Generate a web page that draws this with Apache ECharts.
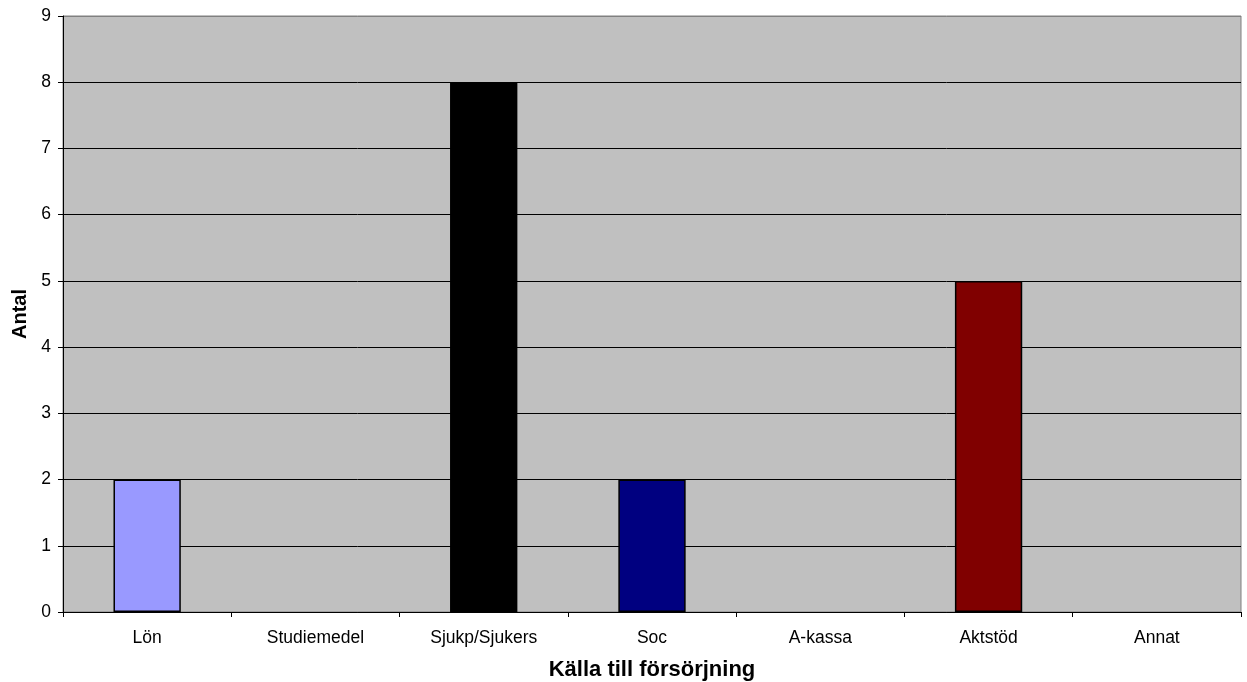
<!DOCTYPE html>
<html>
<head>
<meta charset="utf-8">
<script src="https://cdn.jsdelivr.net/npm/echarts@6/dist/echarts.min.js"></script>
<style>html,body{margin:0;padding:0;background:#fff}#c{width:1247px;height:682px}</style>
</head>
<body>
<div id="c"></div>
<script>
const categories = ['Lön', 'Studiemedel', 'Sjukp/Sjukers', 'Soc', 'A-kassa', 'Aktstöd', 'Annat'];
const values = [2, 0, 8, 2, 0, 5, 0];
const barColors = ['#9999FF', '#9999FF', '#000000', '#000080', '#9999FF', '#800000', '#9999FF'];
const yTicks = [0, 1, 2, 3, 4, 5, 6, 7, 8, 9];

const chart = echarts.init(document.getElementById('c'), null, {renderer: 'canvas'});
const font = '"Liberation Sans", Arial, sans-serif';
chart.setOption({
  animation: false,
  textStyle: {fontFamily: font},
  grid: {left: 63, top: 16, right: 6, bottom: 70, containLabel: false, outerBoundsMode: 'none',
         show: true, backgroundColor: '#C0C0C0', borderColor: '#808080', borderWidth: 1},
  xAxis: {
    type: 'category',
    data: categories,
    name: 'Källa till försörjning',
    nameLocation: 'middle',
    nameGap: 47,
    nameTextStyle: {fontFamily: font, fontSize: 22, fontWeight: 'bold', color: '#000'},
    axisLine: {lineStyle: {color: '#000', width: 1}},
    axisTick: {show: true, length: 5, lineStyle: {color: '#000'}},
    axisLabel: {fontFamily: font, fontSize: 17.5, color: '#000', margin: 17}
  },
  yAxis: {
    type: 'value',
    min: yTicks[0],
    max: yTicks[yTicks.length - 1],
    interval: 1,
    name: 'Antal',
    nameLocation: 'middle',
    nameGap: 33,
    nameTextStyle: {fontFamily: font, fontSize: 20, fontWeight: 'bold', color: '#000'},
    axisLine: {show: true, lineStyle: {color: '#000', width: 1}},
    axisTick: {show: true, length: 5, lineStyle: {color: '#000'}},
    axisLabel: {fontFamily: font, fontSize: 17.5, color: '#000', margin: 12},
    splitLine: {show: true, lineStyle: {color: ['#000','#000','#000','#000','#000','#000','#000','#000','#000','#808080'], width: 1}}
  },
  series: [{
    type: 'bar',
    barWidth: '40%',
    data: values.map((v, i) => ({value: v, itemStyle: {color: barColors[i], borderWidth: v === 0 ? 0 : 1.5}})),
    itemStyle: {borderColor: '#000', borderWidth: 1.5}
  }]
});
</script>
</body>
</html>
